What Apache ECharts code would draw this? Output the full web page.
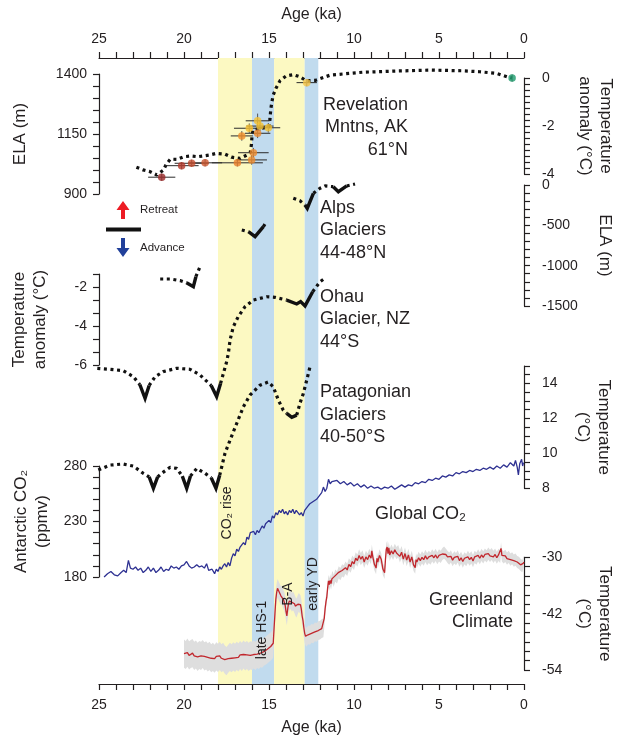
<!DOCTYPE html>
<html><head><meta charset="utf-8">
<script src="https://cdn.jsdelivr.net/npm/echarts@6/dist/echarts.min.js"></script>
<style>html,body{margin:0;padding:0;background:#fff}#c{width:619px;height:736px}</style>
</head><body><div id="c"></div>
<script>
// ---------------- DATA ----------------
const bandStart = [18, 16, 14.7, 12.9];
const bandEnd   = [16, 14.7, 12.9, 12.1];

// Revelation Mtns dotted temperature-anomaly curve [age ka, °C]
const revCurve = [[22.8,-3.72],[22.4,-3.83],[22.0,-3.9],[21.6,-4.04],[21.2,-3.83],[21.05,-3.6],[20.8,-3.38],[20.4,-3.39],[20.0,-3.28],[19.6,-3.25],[19.2,-3.28],[18.5,-3.21],[18.1,-3.14],[17.6,-3.17],[17.2,-3.3],[16.7,-3.35],[16.3,-3.21],[16.1,-3.1],[16.03,-2.75],[16.0,-2.4],[15.95,-2.17],[15.5,-2.1],[15.0,-2.04],[14.94,-1.7],[14.9,-1.33],[14.84,-1.03],[14.75,-0.71],[14.59,-0.43],[14.35,-0.11],[14.0,0.08],[13.57,0.14],[13.18,0.05],[12.82,-0.11],[12.29,-0.1],[11.4,0.12],[9.5,0.24],[7.5,0.29],[5.5,0.33],[3.6,0.3],[2.6,0.26],[1.6,0.19],[1.0,0.05],[0.7,0]];
// Revelation moraine ages / ELA
const revPtAge    = [21.31,20.14,19.55,18.76,16.86,16.02,15.92,16.6,15.67,16.16,15.53,15.04,15.67,12.78,0.7];
const revPtEla    = [970,1018,1028,1030,1030,1042,1072,1142,1153,1174,1183,1176,1205,1364,1383];
const revPtAgeErr = [0.8,1.0,1.0,1.0,1.5,0.9,0.9,0.65,0.75,0.9,0.8,0.7,0.7,0.6,0];
const revPtElaErr = [15,15,15,15,15,20,20,20,20,20,20,20,30,15,15];

// Alps ELA (m) dotted parts and advances
const alpsDots = [
  [[21.4,-1165],[20.8,-1165],[20.2,-1186],[19.85,-1211]],
  [[19.3,-1137],[19.06,-1013]],
  [[16.6,-558],[16.21,-579]],
  [[15.33,-517],[15.18,-462]],
  [[13.57,-165],[13.18,-195],[12.88,-248]],
  [[12.39,-103],[12.0,-41],[11.7,-12],[11.22,-21]],
  [[10.43,-12],[9.94,12]]
];
const alpsAdv = [
  [[19.85,-1211],[19.45,-1261],[19.3,-1137]],
  [[16.21,-579],[15.82,-641],[15.33,-517]],
  [[12.88,-248],[12.75,-289],[12.39,-103]],
  [[11.22,-21],[10.92,-83],[10.43,-12]]
];

// Ohau temperature anomaly (°C)
const ohauDots = [
  [[25.1,-6.17],[24.35,-6.22],[23.57,-6.29],[22.98,-6.6],[22.6,-7.0]],
  [[22.05,-7.05],[21.7,-6.6],[21.22,-6.34],[20.43,-6.17],[19.65,-6.22],[19.06,-6.51],[18.4,-7.05]],
  [[17.85,-6.95],[17.49,-5.83],[17.39,-5.4],[17.29,-4.72],[17.1,-4.04],[16.81,-3.52],[16.41,-3.01],[15.92,-2.67],[15.14,-2.5],[14.65,-2.53],[14.16,-2.63],[13.96,-2.67]],
  [[12.43,-2.24],[12.0,-1.73],[11.8,-1.61]]
];
const ohauAdv = [
  [[22.6,-7.0],[22.29,-7.71],[22.05,-7.05]],
  [[18.4,-7.05],[18.08,-7.62],[17.85,-6.95]],
  [[13.96,-2.67],[13.37,-2.87],[13.14,-2.75],[12.88,-2.97],[12.43,-2.24]]
];

// Patagonia temperature (°C)
const patDots = [
  [[25.04,9.05],[24.35,9.33],[23.57,9.39],[22.98,9.27],[22.4,8.86],[22.05,8.65]],
  [[21.55,8.65],[21.31,8.86],[20.82,9.2],[20.43,9.14],[20.1,8.7]],
  [[19.62,8.7],[19.25,9.14],[18.76,8.86],[18.4,8.6]],
  [[17.9,8.75],[17.59,10.0],[17.29,10.76],[16.9,11.71],[16.51,12.66],[16.12,13.33],[15.53,13.9],[15.04,14.09],[14.75,13.81],[14.45,13.05],[14.16,12.47],[13.96,12.29]],
  [[13.37,12.19],[13.18,12.86],[12.98,13.43],[12.78,14.19],[12.59,14.95]]
];
const patAdv = [
  [[22.05,8.65],[21.8,8.0],[21.55,8.65]],
  [[20.1,8.7],[19.84,8.0],[19.62,8.7]],
  [[18.4,8.6],[18.12,8.0],[17.9,8.75]],
  [[13.96,12.29],[13.66,12.06],[13.37,12.19]]
];

// Antarctic CO2 (ppmv)
const co2 = [[24.7,180],[24.5,183],[24.3,185],[24.1,182],[23.9,181],[23.7,184],[23.55,186],[23.4,184],[23.27,195],[23.15,188],[23.0,187],[22.85,189],[22.7,186],[22.55,188],[22.4,184],[22.25,186],[22.1,189],[21.95,185],[21.8,188],[21.65,184],[21.5,186],[21.35,189],[21.2,185],[21.05,187],[20.9,186],[20.75,190],[20.6,188],[20.45,189],[20.3,187],[20.15,190],[20.0,191],[19.85,194],[19.7,190],[19.55,188],[19.4,189],[19.25,191],[19.1,189],[18.95,190],[18.8,188],[18.67,192],[18.55,186],[18.45,185],[18.35,187],[18.2,183],[18.1,187],[18.0,185],[17.9,189],[17.8,187],[17.7,190],[17.6,192],[17.5,189],[17.4,193],[17.3,190],[17.2,197],[17.1,201],[17.0,199],[16.9,205],[16.8,203],[16.7,207],[16.6,206],[16.5,211],[16.4,209],[16.3,216],[16.2,214],[16.1,220],[16.0,219],[15.9,221],[15.8,218],[15.7,222],[15.6,220],[15.5,223],[15.4,226],[15.3,224],[15.2,228],[15.1,227],[15.0,231],[14.9,229],[14.8,235],[14.7,233],[14.6,238],[14.5,236],[14.4,240],[14.3,238],[14.2,241],[14.1,237],[14.0,239],[13.9,236],[13.8,240],[13.7,238],[13.6,241],[13.5,237],[13.4,240],[13.3,238],[13.2,236],[13.1,238],[13.0,235],[12.9,240],[12.8,242],[12.7,244],[12.6,246],[12.5,245],[12.4,248],[12.3,247],[12.2,250],[12.1,252],[12.0,251],[11.9,256],[11.8,261],[11.7,257],[11.6,260],[11.5,268],[11.4,264],[11.3,266],[11.2,265],[11.0,267],[10.8,264],[10.6,266],[10.4,263],[10.2,265],[10.0,262],[9.8,264],[9.6,261],[9.4,263],[9.2,260],[9.0,262],[8.8,260],[8.6,261],[8.4,259],[8.2,261],[8.0,260],[7.8,262],[7.6,259],[7.4,261],[7.2,263],[7.0,261],[6.8,263],[6.6,262],[6.4,265],[6.2,264],[6.0,266],[5.8,265],[5.6,268],[5.4,267],[5.2,269],[5.0,268],[4.8,271],[4.6,270],[4.4,272],[4.2,271],[4.0,274],[3.8,273],[3.6,275],[3.4,274],[3.2,276],[3.0,275],[2.8,277],[2.6,276],[2.4,278],[2.2,277],[2.0,279],[1.8,277],[1.6,280],[1.4,278],[1.2,281],[1.0,279],[0.8,283],[0.6,280],[0.5,285],[0.4,279],[0.33,272],[0.25,282],[0.14,286],[0.08,280],[0.03,283]];

// Greenland temperature (°C)
const grl = [[20.0,-50.5],[19.9,-50.8],[19.8,-50.3],[19.7,-50.9],[19.6,-50.6],[19.5,-50.4],[19.4,-51.0],[19.3,-50.7],[19.2,-51.2],[19.1,-50.8],[19.0,-51.0],[18.9,-50.6],[18.8,-51.1],[18.7,-50.9],[18.6,-51.3],[18.5,-51.0],[18.4,-51.5],[18.3,-51.2],[18.2,-51.6],[18.1,-51.1],[18.0,-51.4],[17.9,-51.0],[17.8,-51.5],[17.7,-51.2],[17.6,-51.8],[17.5,-52.1],[17.4,-51.6],[17.3,-51.2],[17.2,-51.5],[17.1,-51.1],[17.0,-51.4],[16.9,-51.0],[16.8,-51.3],[16.7,-50.8],[16.6,-51.2],[16.5,-50.7],[16.4,-51.1],[16.3,-50.8],[16.2,-51.2],[16.1,-50.9],[16.0,-51.0],[15.9,-50.7],[15.8,-51.0],[15.7,-50.6],[15.6,-50.8],[15.5,-50.4],[15.4,-50.5],[15.3,-50.1],[15.2,-49.9],[15.1,-49.6],[15.0,-49.3],[14.9,-49.0],[14.8,-48.6],[14.75,-48.3],[14.7,-45.0],[14.65,-42.0],[14.6,-39.0],[14.55,-37.5],[14.5,-36.6],[14.45,-37.0],[14.4,-37.4],[14.35,-37.8],[14.3,-38.2],[14.25,-38.0],[14.2,-38.6],[14.15,-39.0],[14.1,-39.4],[14.05,-40.2],[14.0,-41.5],[13.95,-42.5],[13.9,-41.0],[13.85,-39.8],[13.8,-39.3],[13.75,-39.0],[13.7,-39.2],[13.65,-39.6],[13.6,-39.3],[13.55,-39.5],[13.5,-39.9],[13.45,-40.4],[13.4,-40.8],[13.35,-40.5],[13.3,-40.0],[13.25,-39.6],[13.2,-39.8],[13.15,-40.1],[13.1,-41.0],[13.05,-42.5],[13.0,-43.5],[12.95,-45.0],[12.9,-46.2],[12.85,-46.8],[12.8,-47.0],[12.75,-46.8],[12.7,-46.5],[12.6,-46.6],[12.5,-46.2],[12.4,-46.3],[12.3,-45.9],[12.2,-46.0],[12.1,-45.6],[12.0,-45.5],[11.9,-45.2],[11.8,-45.0],[11.75,-43.0],[11.7,-41.0],[11.65,-39.5],[11.6,-38.5],[11.55,-36.5],[11.5,-35.0],[11.45,-35.8],[11.4,-34.9],[11.35,-35.6],[11.3,-34.6],[11.25,-34.2],[11.2,-35.0],[11.1,-33.9],[11.0,-34.3],[10.9,-33.2],[10.8,-33.6],[10.7,-32.8],[10.6,-33.0],[10.5,-32.2],[10.4,-32.7],[10.3,-31.5],[10.2,-32.0],[10.1,-30.9],[10.0,-31.4],[9.9,-30.2],[9.8,-30.7],[9.7,-29.6],[9.6,-30.4],[9.5,-29.8],[9.4,-31.0],[9.3,-29.9],[9.2,-30.5],[9.1,-29.5],[9.0,-30.2],[8.95,-28.6],[8.9,-29.8],[8.8,-31.5],[8.7,-32.3],[8.65,-30.2],[8.6,-31.0],[8.5,-29.6],[8.4,-30.4],[8.3,-32.5],[8.2,-33.3],[8.15,-30.5],[8.1,-28.3],[8.05,-27.8],[8.0,-29.2],[7.95,-28.0],[7.9,-29.5],[7.8,-28.6],[7.7,-29.3],[7.6,-28.4],[7.5,-29.1],[7.4,-28.7],[7.3,-29.8],[7.2,-28.9],[7.1,-30.4],[7.0,-29.2],[6.9,-30.6],[6.8,-29.5],[6.7,-31.0],[6.6,-29.9],[6.5,-31.6],[6.4,-32.2],[6.35,-30.5],[6.3,-31.0],[6.2,-30.1],[6.1,-30.7],[6.0,-30.0],[5.9,-30.5],[5.8,-29.7],[5.7,-30.4],[5.6,-29.9],[5.5,-30.3],[5.4,-29.6],[5.3,-30.1],[5.2,-29.5],[5.1,-30.2],[5.0,-29.6],[4.9,-29.9],[4.8,-29.3],[4.7,-29.0],[4.6,-29.4],[4.5,-29.9],[4.4,-30.3],[4.3,-29.8],[4.2,-30.6],[4.1,-30.0],[4.0,-30.4],[3.9,-29.8],[3.8,-30.7],[3.7,-30.1],[3.6,-30.9],[3.5,-30.2],[3.4,-30.6],[3.3,-29.9],[3.2,-30.5],[3.1,-30.0],[3.0,-30.8],[2.9,-29.9],[2.8,-30.3],[2.7,-29.6],[2.6,-30.2],[2.5,-29.5],[2.4,-30.0],[2.3,-29.4],[2.2,-29.8],[2.1,-29.2],[2.0,-29.7],[1.9,-29.3],[1.8,-29.9],[1.7,-29.4],[1.6,-30.1],[1.5,-29.5],[1.4,-29.9],[1.35,-28.1],[1.3,-29.6],[1.2,-30.0],[1.1,-29.7],[1.0,-30.3],[0.9,-29.9],[0.8,-30.5],[0.7,-30.2],[0.6,-30.7],[0.5,-30.5],[0.4,-31.0],[0.3,-31.2],[0.2,-31.6],[0.1,-31.9],[0.05,-31.3],[0.0,-31.0]];
// Greenland uncertainty half-width (°C) by interval: older than 14.72 ka, 14.72-11.72 ka, younger
const grlErrBreaks = [14.72, 11.72];
const grlErrVals = [3.0, 2.0, 1.3];

// ---------------- STYLE / LAYOUT ----------------
const FONT = 'Liberation Sans, Arial, Helvetica, sans-serif';
const INK = '#231f20';
const bandColors = ['#fcf9c2', '#c1dbee', '#fcf9c2', '#c1dbee'];
const revPtColor = ['#9b2b2a','#b5392c','#c74f2f','#cd582f','#ea7e2a','#ee8a2c','#ee8a2c','#ef8c2b','#ee8a2c','#f6be30','#f6c230','#f6c330','#f6c030','#f6c342','#1b9a6c'];
const L = 99, R = 95;
const grids = [
  {top:58, bottom:52},
  {top:74, height:120},
  {top:78, height:96},
  {top:185, height:121},
  {top:274, height:91},
  {top:366, height:122.3},
  {top:466, height:111},
  {top:557.3, height:112.7}
].map(g => Object.assign({left:L, right:R, containLabel:false, outerBoundsMode:'none'}, g));

const onStep = (v, s, base) => Math.abs((v - (base||0)) / s - Math.round((v - (base||0)) / s)) < 1e-4;
const axisCommon = {
  axisLine: {show:true, onZero:false, lineStyle:{color:INK, width:1.2}},
  axisTick: {show:true, length:6, lineStyle:{color:INK, width:1.2}},
  splitLine: {show:false},
  nameTextStyle: {color:INK, fontSize:17, fontFamily:FONT, lineHeight:21},
};
function yAx(i, o) {
  const lab = o.labelStep;
  return Object.assign({
    gridIndex:i, type:'value', nameLocation:'middle',
    axisLabel:{color:INK, fontSize:14, fontFamily:FONT, margin:o.position==='right'?18:12,
      formatter: v => onStep(v, lab, o.min) ? String(Math.round(v)) : ''}
  }, axisCommon, o);
}
function xHidden(i){ return {gridIndex:i, type:'value', min:0, max:25, inverse:true, show:false, axisLine:{onZero:false}}; }
const xLab = {color:INK, fontSize:14, fontFamily:FONT, formatter: v => onStep(v,5) ? String(Math.round(v)) : ''};

const xAxis = [
  Object.assign({gridIndex:0, type:'value', position:'bottom', min:0, max:25, interval:1, inverse:true,
    name:'Age (ka)', nameLocation:'middle', nameGap:30, axisLabel:Object.assign({margin:14}, xLab)}, axisCommon),
  xHidden(1), xHidden(2), xHidden(3), xHidden(4), xHidden(5), xHidden(6), xHidden(7),
  Object.assign({gridIndex:0, type:'value', position:'top', min:0, max:25, interval:1, inverse:true,
    name:'Age (ka)', nameLocation:'middle', nameGap:33, axisLabel:Object.assign({margin:12}, xLab)}, axisCommon)
];
xAxis[0].nameTextStyle = Object.assign({}, axisCommon.nameTextStyle, {fontSize:16});
xAxis[8].nameTextStyle = Object.assign({}, axisCommon.nameTextStyle, {fontSize:16});

const yAxis = [
  {gridIndex:0, type:'value', min:0, max:1, show:false, axisLine:{onZero:false}},
  yAx(1, {position:'left', min:900, max:1400, interval:50, labelStep:250, name:'ELA (m)', nameRotate:90, nameGap:68}),
  yAx(2, {position:'right', min:-4, max:0, interval:0.25, labelStep:2, name:'Temperature\nanomaly (°C)', nameRotate:-90, nameGap:50}),
  yAx(3, {position:'right', min:-1500, max:0, interval:100, labelStep:500, name:'ELA (m)', nameRotate:-90, nameGap:70}),
  yAx(4, {position:'left', min:-6, max:-6+7*(2/3), interval:2/3, labelStep:2, name:'Temperature\nanomaly (°C)', nameRotate:90, nameGap:48}),
  yAx(5, {position:'right', min:8, max:15, interval:0.5, labelStep:2, name:'Temperature\n(°C)', nameRotate:-90, nameGap:48}),
  yAx(6, {position:'left', min:180, max:280, interval:10, labelStep:50, name:'Antarctic CO₂\n(ppmv)', nameRotate:90, nameGap:46}),
  yAx(7, {position:'right', min:-54, max:-30, interval:2, labelStep:12, name:'Temperature\n(°C)', nameRotate:-90, nameGap:49})
];

const DOT = {color:'#111', width:3.2, type:[3,3.6], cap:'butt'};
const SOLID = {color:'#111', width:3.4, type:'solid', cap:'butt', join:'miter'};
function lineS(i, data, style, z){
  return {type:'line', xAxisIndex:i, yAxisIndex:i, data, showSymbol:false, symbol:'none', clip:false,
    silent:true, animation:false, lineStyle:style, z:z||4};
}
const series = [];
// bands
series.push({type:'line', xAxisIndex:0, yAxisIndex:0, data:[], silent:true, z:1,
  markArea:{silent:true, data: bandStart.map((s,k)=>[{xAxis:s, itemStyle:{color:bandColors[k], opacity:1}},{xAxis:bandEnd[k]}])}});
// Revelation
series.push(lineS(2, revCurve, DOT));
series.push({type:'custom', xAxisIndex:1, yAxisIndex:1, clip:false, silent:true, z:5, animation:false,
  data: revPtAge.map((a,k)=>[a, revPtEla[k], revPtAgeErr[k], revPtElaErr[k]]),
  encode:{x:0, y:1},
  renderItem:(p, api)=>{
    const a=api.value(0), e=api.value(1), da=api.value(2), de=api.value(3);
    const A=api.coord([a+da,e]), B=api.coord([a-da,e]), C=api.coord([a,e+de]), D=api.coord([a,e-de]);
    return {type:'group', children:[
      {type:'line', shape:{x1:A[0],y1:A[1],x2:B[0],y2:B[1]}, style:{stroke:'#2a2a2a', lineWidth:1}},
      {type:'line', shape:{x1:C[0],y1:C[1],x2:D[0],y2:D[1]}, style:{stroke:'#555', lineWidth:1}}
    ]};
  }});
series.push({type:'scatter', xAxisIndex:1, yAxisIndex:1, symbolSize:7.5, clip:false, silent:true, z:6, animation:false,
  data: revPtAge.map((a,k)=>({value:[a, revPtEla[k]], itemStyle:{color:revPtColor[k]}}))});
// glaciers
[[3, alpsDots, alpsAdv],[4, ohauDots, ohauAdv],[5, patDots, patAdv]].forEach(([i, dots, adv])=>{
  dots.forEach(d=>series.push(lineS(i, d, DOT)));
  adv.forEach(d=>series.push(lineS(i, d, SOLID)));
});
// CO2
series.push(lineS(6, co2, {color:'#2e3192', width:1.3}, 5));
// Greenland band + line
const grlErr = a => a > grlErrBreaks[0] ? grlErrVals[0] : (a > grlErrBreaks[1] ? grlErrVals[1] : grlErrVals[2]);
series.push({type:'custom', xAxisIndex:7, yAxisIndex:7, clip:false, silent:true, z:3, animation:false,
  data:[[10,-40]], encode:{x:0,y:1},
  renderItem:(p, api)=>{
    const up = grl.map(q=>api.coord([q[0], q[1]+grlErr(q[0])]));
    const lo = grl.map(q=>api.coord([q[0], q[1]-grlErr(q[0])])).reverse();
    return {type:'polygon', shape:{points: up.concat(lo)}, style:{fill:'#dedede'}};
  }});
series.push(lineS(7, grl, {color:'#c1272d', width:1.3}, 5));

// ---------------- TEXT ----------------
function txt(x, y, text, o){
  return Object.assign({type:'text', x, y, silent:true, z:20, style:Object.assign({text, fill:INK, fontSize:18, fontFamily:FONT,
    align:'left', verticalAlign:'middle', lineHeight:22.5}, (o&&o.style)||{})}, o&&o.rotation!==undefined?{rotation:o.rotation}:{});
}
const graphic = [
  txt(408, 127.5, 'Revelation\nMntns, AK\n61°N', {style:{align:'right'}}),
  txt(320, 230.5, 'Alps\nGlaciers\n44-48°N'),
  txt(320, 319.5, 'Ohau\nGlacier, NZ\n44°S'),
  txt(320, 415, 'Patagonian\nGlaciers\n40-50°S'),
  txt(375, 514, 'Global CO₂'),
  txt(513, 611, 'Greenland\nClimate', {style:{align:'right'}}),
  txt(227, 513, 'CO₂ rise', {rotation:Math.PI/2, style:{align:'center', fontSize:14}}),
  txt(262, 630, 'late HS-1', {rotation:Math.PI/2, style:{align:'center', fontSize:14}}),
  txt(288, 594, 'B-A', {rotation:Math.PI/2, style:{align:'center', fontSize:14}}),
  txt(313, 584, 'early YD', {rotation:Math.PI/2, style:{align:'center', fontSize:14}}),
  txt(140, 210, 'Retreat', {style:{fontSize:11.5}}),
  txt(140, 247.5, 'Advance', {style:{fontSize:11.5}}),
  {type:'polygon', silent:true, z:20, shape:{points:[[123,201],[129.5,210],[125,210],[125,219],[121,219],[121,210],[116.5,210]]}, style:{fill:'#ed1c24'}},
  {type:'rect', silent:true, z:20, shape:{x:106, y:227.5, width:35, height:4}, style:{fill:'#111'}},
  {type:'polygon', silent:true, z:20, shape:{points:[[123,257],[129.5,248],[125,248],[125,238],[121,238],[121,248],[116.5,248]]}, style:{fill:'#21409a'}}
];

const chart = echarts.init(document.getElementById('c'), null, {renderer:'canvas'});
chart.setOption({animation:false, backgroundColor:'#fff', grid:grids, xAxis, yAxis, series, graphic});
</script></body></html>
